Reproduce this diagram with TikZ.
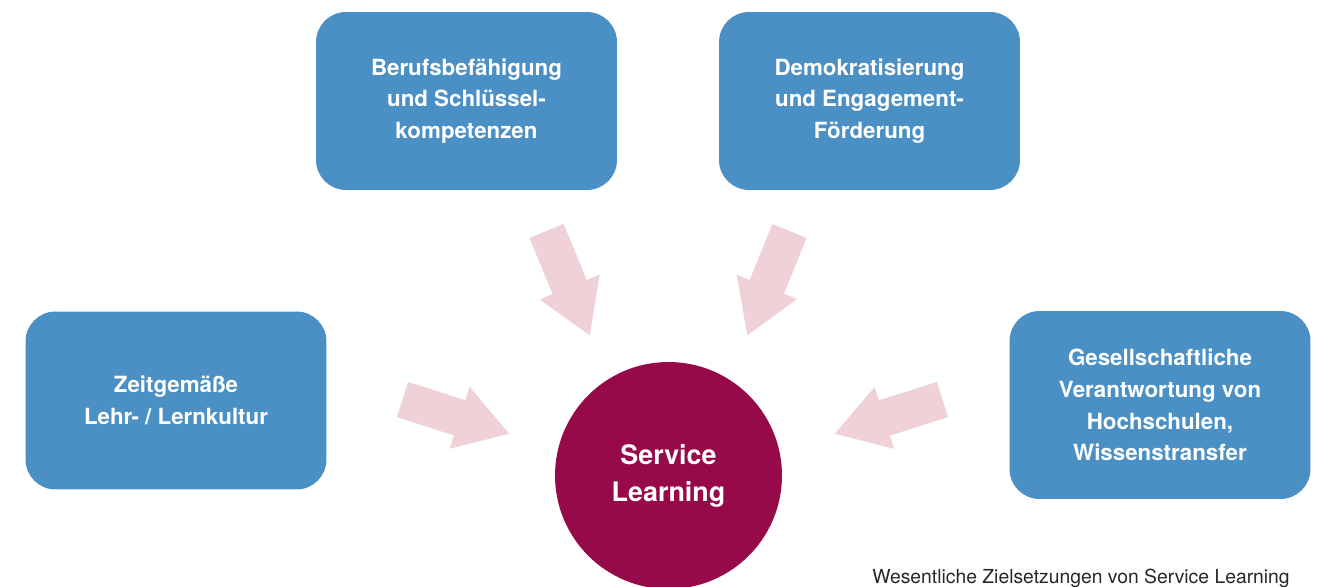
\documentclass[tikz,border=0pt]{standalone}
\usepackage{fontspec}
\setmainfont{TeX Gyre Heros}
\setsansfont{TeX Gyre Heros}
\usepackage{tikz}
\usetikzlibrary{arrows.meta}

\definecolor{zielblau}{RGB}{74,144,196}
\definecolor{pfeilrosa}{RGB}{240,209,215}
\definecolor{slrot}{RGB}{150,10,74}

\tikzset{
	ziel/.style={fill=zielblau,rounded corners=0.6cm,minimum width=6.02cm,minimum height=3.56cm,
		align=center,text=white,font=\sffamily\bfseries\fontsize{12.7}{18.1}\selectfont,inner sep=0pt},
	mitte/.style={circle,fill=slrot,minimum size=4.54cm,align=center,text=white,
		font=\sffamily\bfseries\fontsize{15.3}{21}\selectfont,inner sep=0pt},
	zufluss/.style={draw=pfeilrosa,line width=0.74cm,-{Triangle[length=1.06cm,width=1.22cm]}}
}

\begin{document}
\begin{tikzpicture}[x=0.02cm,y=-0.02cm]
	\useasboundingbox (0,0) rectangle (1322,587);
	\node[ziel] (beruf) at (466.5,101) {Berufsbefähigung\\und Schlüssel-\\kompetenzen};
	\node[ziel] (demo) at (869.5,101) {Demokratisierung\\und Engagement-\\Förderung};
	\node[ziel] (lehr) at (176,400.5) {Zeitgemäße\\Lehr- / Lernkultur};
	\node[ziel,minimum height=3.76cm] (gesell) at (1160,405)
		{Gesellschaftliche\\Verantwortung von\\Hochschulen,\\Wissenstransfer};
	\node[mitte] (sl) at (668.5,475.5) {Service\\Learning};
	% Pfeile
	\coordinate (p1a) at (546.5,231);  \coordinate (p1b) at (590,336);
	\coordinate (p2a) at (789.5,231);  \coordinate (p2b) at (747,336);
	\coordinate (p3a) at (402.5,399.5); \coordinate (p3b) at (510,434);
	\coordinate (p4a) at (942.5,399.5); \coordinate (p4b) at (834,434);
	\foreach \i in {1,2,3,4}{
		\draw[zufluss] (p\i a) -- (p\i b);
	}
	\node[anchor=base west,inner sep=0pt,text=black!85,font=\sffamily\fontsize{11}{13}\selectfont] (titel)
		at (872,583) {Wesentliche Zielsetzungen von Service Learning};
\end{tikzpicture}
\end{document}
